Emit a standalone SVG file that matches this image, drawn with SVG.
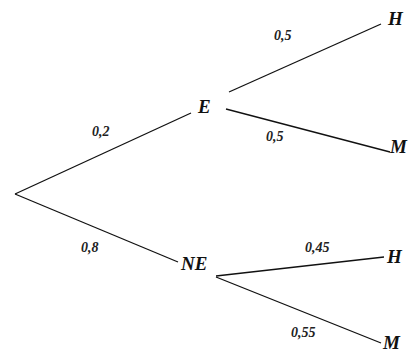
<svg xmlns="http://www.w3.org/2000/svg" width="408" height="353" viewBox="0 0 408 353">
<style>
.e{stroke:#111;stroke-width:1.3;fill:none}
.n{font-family:"Liberation Serif","Times New Roman",serif;font-weight:bold;font-style:italic;font-size:19px;fill:#111}
.p{font-family:"Liberation Serif","Times New Roman",serif;font-weight:bold;font-style:italic;font-size:14px;fill:#222}
</style>
<rect width="408" height="353" fill="#fff"/>
<g id="connectors">
<line class="e" x1="15" y1="194" x2="191" y2="113"/>
<line class="e" x1="15" y1="194" x2="178" y2="262"/>
<line class="e" x1="229" y1="92" x2="381" y2="24"/>
<line class="e" x1="226" y1="109" x2="390" y2="152"/>
<line class="e" x1="216" y1="276" x2="384" y2="257"/>
<line class="e" x1="216" y1="277" x2="381" y2="343"/>
<text class="p" x="92" y="136">0,2</text>
<text class="p" x="81" y="252">0,8</text>
<text class="p" x="274" y="40">0,5</text>
<text class="p" x="266" y="141">0,5</text>
<text class="p" x="305" y="252">0,45</text>
<text class="p" x="291" y="337">0,55</text>
</g>
<g id="node-E"><text class="n" x="198" y="113">E</text></g>
<g id="node-NE"><text class="n" x="181" y="270">NE</text></g>
<g id="node-H1"><text class="n" x="388" y="25">H</text></g>
<g id="node-M1"><text class="n" x="390" y="153">M</text></g>
<g id="node-H2"><text class="n" x="387" y="263">H</text></g>
<g id="node-M2"><text class="n" x="383" y="349">M</text></g>
</svg>
